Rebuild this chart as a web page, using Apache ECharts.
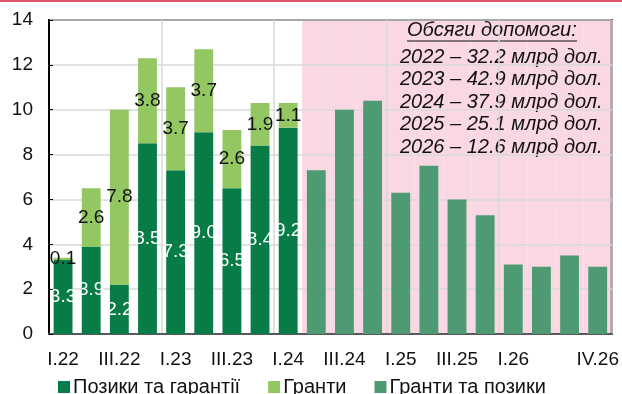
<!DOCTYPE html>
<html>
<head>
<meta charset="utf-8">
<script src="https://cdn.jsdelivr.net/npm/echarts@6/dist/echarts.min.js"></script>
<style>
  html, body { margin: 0; padding: 0; background: #fff; }
  #chart { width: 622px; height: 394px; }
</style>
</head>
<body>
<div id="chart"></div>
<script>
// Quarterly external financing, bn USD
const quarters = ['I.22','II.22','III.22','IV.22','I.23','II.23','III.23','IV.23','I.24',
                  'II.24','III.24','IV.24','I.25','II.25','III.25','IV.25','I.26','II.26','III.26','IV.26'];
const loans    = [3.3, 3.9, 2.2, 8.5, 7.3, 9.0, 6.5, 8.4, 9.2, null, null, null, null, null, null, null, null, null, null, null];
const grants   = [0.1, 2.6, 7.8, 3.8, 3.7, 3.7, 2.6, 1.9, 1.1, null, null, null, null, null, null, null, null, null, null, null];
const forecast = [null, null, null, null, null, null, null, null, null, 7.3, 10.0, 10.4, 6.3, 7.5, 6.0, 5.3, 3.1, 3.0, 3.5, 3.0];
const forecastStart = 9;          // first projected quarter (II.24)
const yMin = 0, yMax = 14, yStep = 2;

const seriesNames = ['Позики та гарантії', 'Гранти', 'Гранти та позики'];
const summaryTitle = 'Обсяги допомоги:';
const summaryLines = [
  '2022 – 32.2 млрд дол.',
  '2023 – 42.9 млрд дол.',
  '2024 – 37.9 млрд дол.',
  '2025 – 25.1 млрд дол.',
  '2026 – 12.6 млрд дол.'
];

const FONT = '"Liberation Sans", Arial, sans-serif';
const C_LOANS = '#077c46';
const C_GRANTS = '#92c762';
const C_FORECAST = '#4e9a73';
const C_SHADE = '#f9d7e3';

// shaded projection band spans the full plot height
const shade = quarters.map((q, i) => (i >= forecastStart ? yMax : null));

const chart = echarts.init(document.getElementById('chart'), null, { renderer: 'canvas' });

const yearBoundary = (idx) => idx % 4 === 0;
const valueLabel = (p) => (p.value == null ? '' : Number(p.value).toFixed(1));

chart.setOption({
  animation: false,
  textStyle: { fontFamily: FONT },
  grid: {
    left: 49, top: 20, right: 10, bottom: 60,
    show: true, borderColor: '#1a1a1a', borderWidth: 2, backgroundColor: 'transparent'
  },
  legend: {
    data: seriesNames,
    left: 53, top: 372,
    itemWidth: 12, itemHeight: 12, itemGap: 28,
    icon: 'rect',
    textStyle: { fontSize: 20, color: '#111', fontFamily: FONT, padding: [0, 0, 0, -2] }
  },
  xAxis: [
    {
      type: 'category',
      data: quarters,
      axisLine: { lineStyle: { color: '#595959', width: 2 } },
      axisTick: { inside: true, length: 6, interval: (i) => yearBoundary(i), lineStyle: { color: '#595959', width: 1 } },
      splitLine: { show: true, interval: (i) => yearBoundary(i), lineStyle: { color: '#d9d9d9', width: 1.5 } },
      axisLabel: {
        interval: (i) => (i % 2 === 0 && i !== 18) || i === 19,
        fontSize: 19, color: '#111', margin: 16, fontFamily: FONT
      }
    },
    {
      type: 'category',
      data: quarters,
      show: false
    }
  ],
  yAxis: {
    type: 'value',
    min: yMin, max: yMax, interval: yStep,
    axisLine: { show: true, lineStyle: { color: '#000', width: 2 } },
    axisTick: { show: true, inside: true, length: 4, lineStyle: { color: '#000' } },
    splitLine: { lineStyle: { color: '#d9d9d9', width: 1.5 } },
    axisLabel: { fontSize: 19, color: '#111', margin: 16, fontFamily: FONT }
  },
  series: [
    {
      name: 'shade',
      type: 'bar',
      xAxisIndex: 1,
      data: shade,
      barWidth: '100%',
      z: -1,
      silent: true,
      itemStyle: { color: C_SHADE, borderColor: C_SHADE, borderWidth: 0.6 }
    },
    {
      name: seriesNames[0],
      type: 'bar',
      stack: 'q',
      data: loans,
      barWidth: '67%',
      itemStyle: { color: C_LOANS },
      label: { show: true, position: 'inside', color: '#fff', fontSize: 19, fontFamily: FONT, formatter: valueLabel }
    },
    {
      name: seriesNames[1],
      type: 'bar',
      stack: 'q',
      data: grants,
      itemStyle: { color: C_GRANTS },
      label: { show: true, position: 'inside', color: '#111', fontSize: 19, fontFamily: FONT, formatter: valueLabel }
    },
    {
      name: seriesNames[2],
      type: 'bar',
      stack: 'q',
      data: forecast,
      itemStyle: { color: C_FORECAST }
    }
  ],
  graphic: [
    {
      type: 'rect',
      shape: { x: 0, y: 0, width: 622, height: 2 },
      style: { fill: '#e2506a' },
      silent: true
    },
    {
      type: 'text',
      left: 407, top: 20,
      style: { text: summaryTitle, font: 'italic 20px ' + FONT, fill: '#111' }
    },
    {
      type: 'line',
      shape: { x1: 407, y1: 41, x2: 577, y2: 41 },
      style: { stroke: '#111', lineWidth: 1 }
    },
    {
      type: 'text',
      left: 400, top: 46,
      style: {
        text: summaryLines.join('\n'),
        font: 'italic 20px ' + FONT,
        lineHeight: 22.5,
        fill: '#111'
      }
    }
  ]
});
</script>
</body>
</html>
